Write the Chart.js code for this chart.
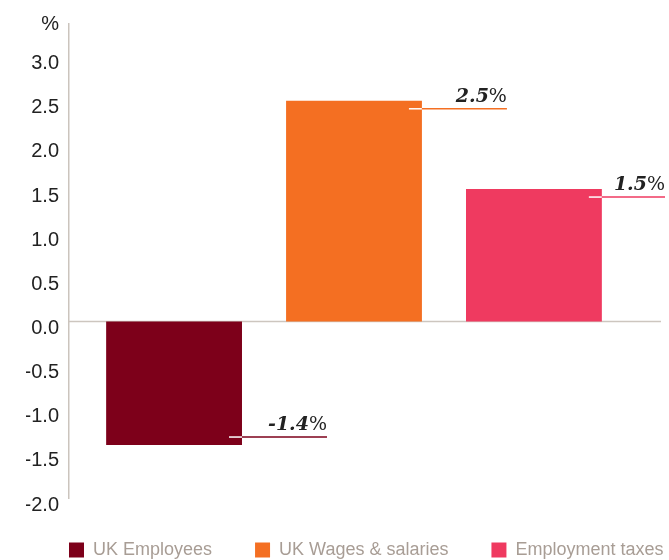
<!DOCTYPE html>
<html>
<head>
<meta charset="utf-8">
<script src="https://cdn.jsdelivr.net/npm/chart.js@4.4.1/dist/chart.umd.min.js"></script>
<style>
  html, body { margin: 0; padding: 0; background: #ffffff; }
  #wrap { width: 669px; height: 560px; position: relative; }
</style>
</head>
<body>
<div id="wrap"><canvas id="c" width="669" height="560"></canvas></div>
<script>
const categories = [''];
const seriesNames = ['UK Employees', 'UK Wages & salaries', 'Employment taxes'];
const seriesValues = [[-1.4], [2.5], [1.5]];
const seriesColors = ['#7d001a', '#f46f22', '#ef3a60'];
const tickValues = [-2.0, -1.5, -1.0, -0.5, 0.0, 0.5, 1.0, 1.5, 2.0, 2.5, 3.0];
const unitLabel = '%';
const axisMin = -2.0;
const axisMax = 3.37;

const tickFont = { family: '"Liberation Sans", Arial, sans-serif', size: 20 };

const zeroLinePlugin = {
  id: 'zeroLine',
  beforeDatasetsDraw(chart) {
    const { ctx, chartArea, scales } = chart;
    const y = scales.y.getPixelForValue(0);
    ctx.save();
    ctx.strokeStyle = '#cdc6bf';
    ctx.lineWidth = 1.5;
    ctx.beginPath();
    ctx.moveTo(chartArea.left, y);
    ctx.lineTo(chartArea.right + 22, y);
    ctx.stroke();
    ctx.restore();
  }
};

const valueLabelPlugin = {
  id: 'valueLabels',
  afterDatasetsDraw(chart) {
    const { ctx } = chart;
    chart.data.datasets.forEach((ds, i) => {
      const meta = chart.getDatasetMeta(i);
      const bar = meta.data[0];
      if (!bar) return;
      const v = ds.data[0];
      const right = bar.x + bar.width / 2;
      const ly = v >= 0 ? bar.y + 8 : bar.y - 8;
      const end = Math.min(right + 85, chart.width - 4);
      ctx.save();
      ctx.lineWidth = 1.5;
      ctx.strokeStyle = '#ffffff';
      ctx.beginPath();
      ctx.moveTo(right - 13, ly);
      ctx.lineTo(right, ly);
      ctx.stroke();
      ctx.strokeStyle = ds.backgroundColor;
      ctx.beginPath();
      ctx.moveTo(right, ly);
      ctx.lineTo(end, ly);
      ctx.stroke();
      ctx.fillStyle = '#222222';
      ctx.textAlign = 'right';
      ctx.textBaseline = 'alphabetic';
      ctx.font = 'normal 19px "DejaVu Serif"';
      const pct = '%';
      const pw = ctx.measureText(pct).width;
      ctx.fillText(pct, end, ly - 7);
      ctx.font = 'italic bold 19px "DejaVu Serif"';
      ctx.fillText(v.toFixed(1), end - pw, ly - 7);
      ctx.restore();
    });
  }
};

new Chart(document.getElementById('c'), {
  type: 'bar',
  data: {
    labels: categories,
    datasets: seriesNames.map((name, i) => ({
      label: name,
      data: seriesValues[i],
      backgroundColor: seriesColors[i],
      borderWidth: 0,
      categoryPercentage: 0.947,
      barPercentage: 0.755
    }))
  },
  options: {
    responsive: false,
    animation: false,
    layout: { padding: { left: 26, right: -45, top: 21, bottom: -9 } },
    plugins: {
      tooltip: { enabled: false },
      legend: {
        position: 'bottom',
        align: 'start',
        labels: {
          boxWidth: 15,
          boxHeight: 15,
          padding: 43,
          color: '#a89d95',
          font: { family: '"Liberation Sans", Arial, sans-serif', size: 18 }
        }
      }
    },
    scales: {
      x: { display: false },
      y: {
        min: axisMin,
        max: axisMax,
        afterBuildTicks: (s) => {
          s.ticks = tickValues.map(v => ({ value: v })).concat([{ value: axisMax }]);
        },
        afterFit: (s) => { s.width = 43; },
        grid: { display: false, drawTicks: false },
        border: { display: true, color: '#cbc4bd', width: 1.5 },
        ticks: {
          padding: 10,
          labelOffset: 7,
          color: '#222222',
          font: (c) => (c.tick && c.tick.value === axisMax
            ? Object.assign({}, tickFont, { lineHeight: '14px' })
            : tickFont),
          callback: (v) => (v === axisMax ? [unitLabel, ''] : Number(v).toFixed(1))
        }
      },
      yRight: {
        position: 'right',
        display: true,
        grid: { display: false },
        border: { display: false },
        ticks: { display: false },
        afterFit: (s) => { s.width = 75; }
      }
    }
  },
  plugins: [zeroLinePlugin, valueLabelPlugin]
});
</script>
</body>
</html>
